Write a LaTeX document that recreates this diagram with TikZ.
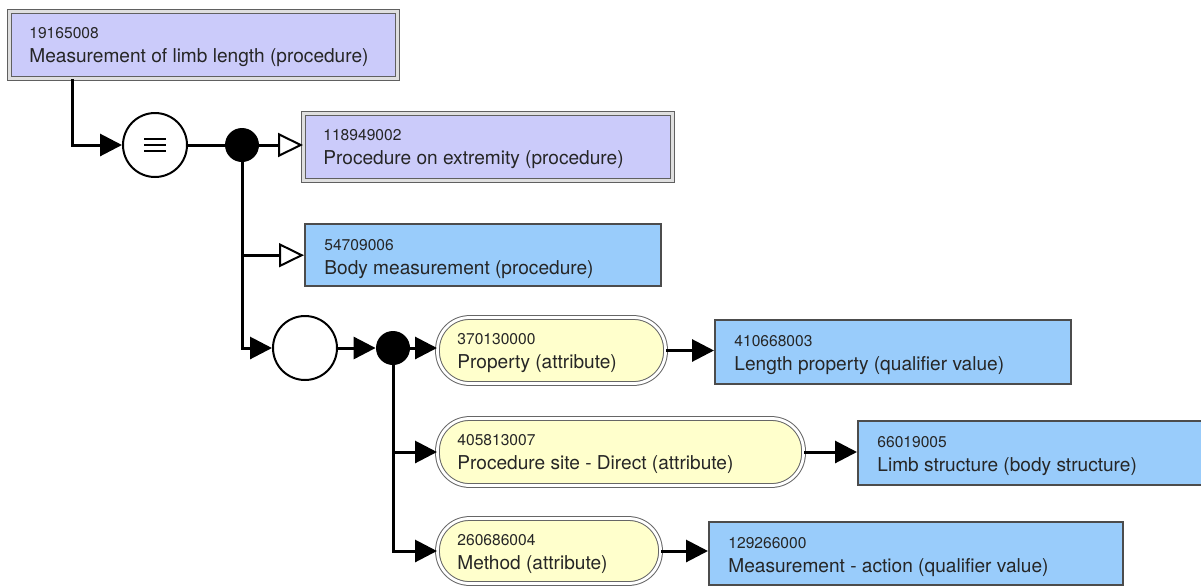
\documentclass[tikz,border=0pt]{standalone}
\usepackage{fontspec}
\setmainfont{TeX Gyre Heros}
\usetikzlibrary{arrows.meta}
\definecolor{lav}{HTML}{CBCBFA}
\definecolor{sky}{HTML}{99CCFB}
\definecolor{pale}{HTML}{FFFFCC}
\tikzset{
 primbox/.style={rectangle, fill=lav, draw=gray!75!black, line width=0.5pt, double=gray!25, double distance=1.2pt, inner sep=0pt},
 defbox/.style={rectangle, fill=sky, draw=black!70, line width=1.2pt, inner sep=0pt},
 attrpill/.style={rectangle, rounded corners=16pt, fill=pale, draw=gray!80!black, line width=0.5pt, double=white, double distance=1.4pt, inner sep=0pt},
 numtxt/.style={anchor=base west, font=\fontsize{7.8}{9}\selectfont, inner sep=0pt, text=black!85},
 nametxt/.style={anchor=base west, font=\fontsize{9.55}{11}\selectfont, inner sep=0pt, text=black!85},
 conn/.style={line width=1.5pt},
 farr/.style={conn, -{Triangle[length=11pt,width=11pt]}},
 oarr/.style={conn, -{Triangle[open,length=12.5pt,width=12pt,line width=1pt,fill=white]}},
 opcircle/.style={circle, draw, line width=1pt, minimum size=32pt, inner sep=0pt, fill=white},
 joindot/.style={circle, fill=black, minimum size=17pt, inner sep=0pt},
}
\newcommand\mkbox[8]{%
  \node[#2, minimum width={#5*0.5pt}, minimum height={#6*0.5pt}, anchor=north west] (#1) at (#3,#4) {};
  \node[numtxt] (#1-num) at ([shift={(20,27)}]#1.north west) {#7};
  \node[nametxt] (#1-name) at ([shift={(20,51)}]#1.north west) {#8};
}
\begin{document}
\begin{tikzpicture}[x=0.5pt,y=-0.5pt]
\useasboundingbox (0,0) rectangle (1201,585);
% concept boxes
\mkbox{b1}{primbox}{9}{11}{388}{67}{19165008}{Measurement of limb length (procedure)}
\mkbox{b2}{primbox}{303}{113}{369}{67}{118949002}{Procedure on extremity (procedure)}
\mkbox{b3}{defbox}{304}{223}{356}{62}{54709006}{Body measurement (procedure)}
\mkbox{p1}{attrpill}{437}{317}{228}{66}{370130000}{Property (attribute)}
\mkbox{p2}{attrpill}{437}{418}{366}{67}{405813007}{Procedure site - Direct (attribute)}
\mkbox{p3}{attrpill}{437}{518}{223}{65}{260686004}{Method (attribute)}
\mkbox{v1}{defbox}{714}{319}{356}{64}{410668003}{Length property (qualifier value)}
\mkbox{v2}{defbox}{857}{420}{380}{64}{66019005}{Limb structure (body structure)}
\mkbox{v3}{defbox}{708}{521}{414}{63}{129266000}{Measurement - action (qualifier value)}
% operators
\node[opcircle] (c1) at (155,145) {};
\draw[line width=1.3pt] ([shift={(-11,-6)}]c1.center) -- ++(22,0)
                      ([shift={(-11,0)}]c1.center) -- ++(22,0)
                      ([shift={(-11,6)}]c1.center) -- ++(22,0);
\node[joindot] (d1) at (242,145) {};
\node[opcircle] (c2) at (305,348) {};
\node[joindot] (d2) at (393,348) {};
% connectors
\draw[farr] ([xshift=31.5pt]b1.south west) |- (c1);
\draw[conn] (c1) -- (d1);
\draw[oarr] (d1) -- (d1 -| b2.west);
\draw[oarr] (d1) |- (b3.west);
\draw[farr] (d1) |- (c2);
\draw[farr] (c2) -- (d2);
\draw[farr] (d2) -- (d2 -| p1.west);
\draw[farr] (d2) |- (p2.west);
\draw[farr] (d2) |- (p3.west);
\draw[farr] (p1.east) -- (p1.east -| v1.west);
\draw[farr] (p2.east) -- (p2.east -| v2.west);
\draw[farr] (p3.east) -- (p3.east -| v3.west);
\end{tikzpicture}
\end{document}
